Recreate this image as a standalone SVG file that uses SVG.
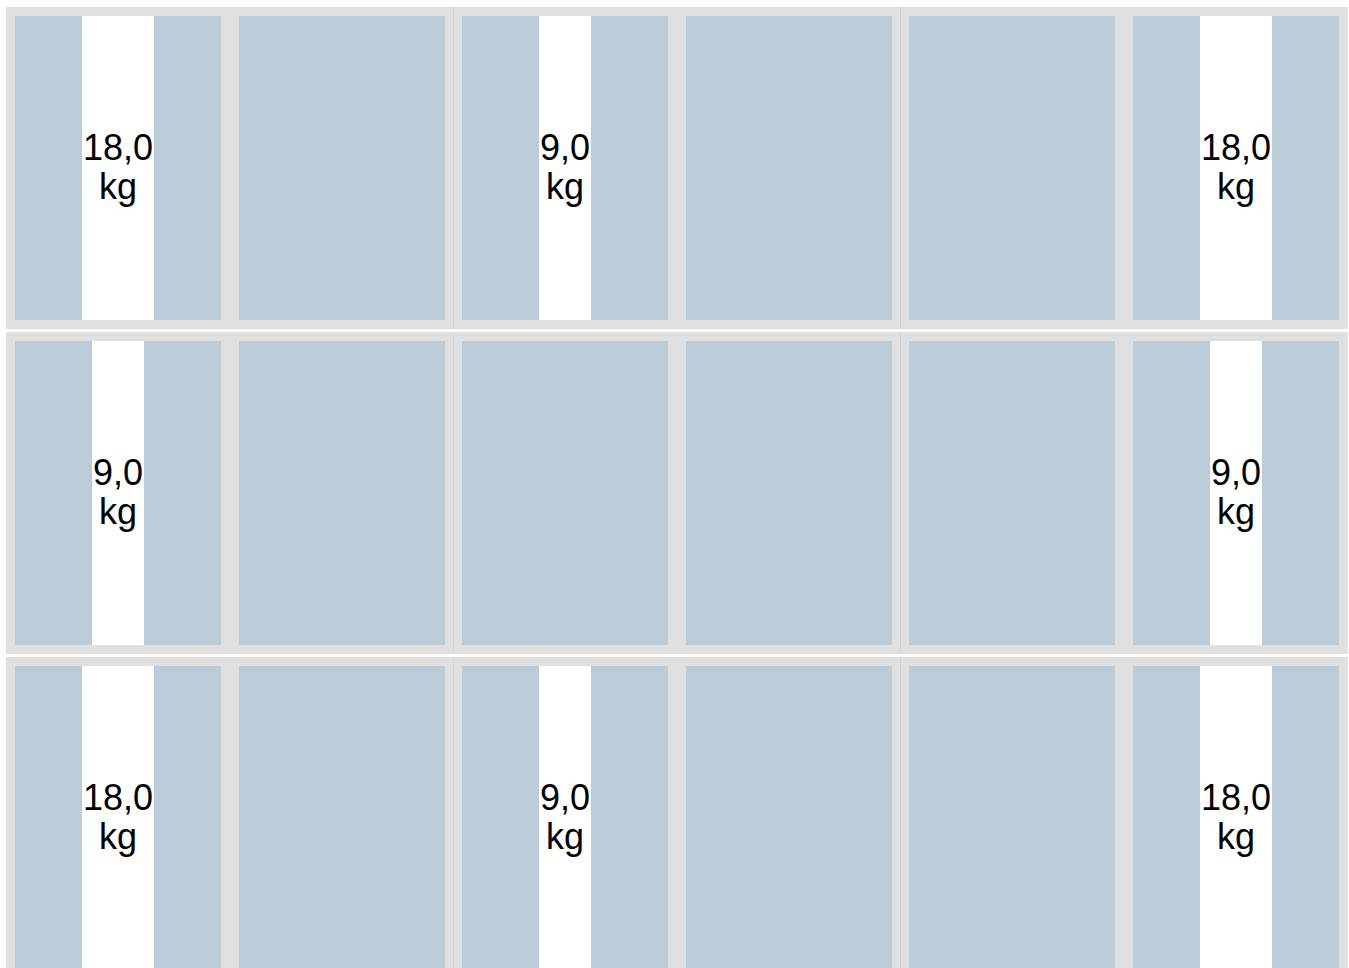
<svg xmlns="http://www.w3.org/2000/svg" width="1349" height="968" viewBox="0 0 1349 968">
<style>
.band{fill:#e0e0e0}
.sep{stroke:#d2d2d2;stroke-width:1}
.cell{fill:#bccbd8}
.gap{fill:#ffffff}
.lbl{font-family:"Liberation Sans",Arial,sans-serif;font-size:36px;fill:#000;text-anchor:middle}
</style>
<rect width="1349" height="968" fill="#ffffff"/>
<g id="bands">
<rect class="band" x="6" y="7" width="1342" height="322"/>
<rect class="band" x="6" y="332" width="1342" height="322"/>
<rect class="band" x="6" y="657" width="1342" height="322"/>
</g>
<g id="connectors">
<line class="sep" x1="453.5" y1="7" x2="453.5" y2="329"/>
<line class="sep" x1="900.5" y1="7" x2="900.5" y2="329"/>
<line class="sep" x1="453.5" y1="332" x2="453.5" y2="654"/>
<line class="sep" x1="900.5" y1="332" x2="900.5" y2="654"/>
<line class="sep" x1="453.5" y1="657" x2="453.5" y2="968"/>
<line class="sep" x1="900.5" y1="657" x2="900.5" y2="968"/>
</g>
<g id="r1c1"><rect class="cell" x="15" y="16" width="206" height="304"/><rect class="gap" x="82" y="16" width="72" height="304"/><text class="lbl" x="118" y="160">18,0</text><text class="lbl" x="118" y="199">kg</text></g>
<g id="r1c2"><rect class="cell" x="239" y="16" width="206" height="304"/></g>
<g id="r1c3"><rect class="cell" x="462" y="16" width="206" height="304"/><rect class="gap" x="539" y="16" width="52" height="304"/><text class="lbl" x="565" y="160">9,0</text><text class="lbl" x="565" y="199">kg</text></g>
<g id="r1c4"><rect class="cell" x="686" y="16" width="206" height="304"/></g>
<g id="r1c5"><rect class="cell" x="909" y="16" width="206" height="304"/></g>
<g id="r1c6"><rect class="cell" x="1133" y="16" width="206" height="304"/><rect class="gap" x="1200" y="16" width="72" height="304"/><text class="lbl" x="1236" y="160">18,0</text><text class="lbl" x="1236" y="199">kg</text></g>
<g id="r2c1"><rect class="cell" x="15" y="341" width="206" height="304"/><rect class="gap" x="92" y="341" width="52" height="304"/><text class="lbl" x="118" y="485">9,0</text><text class="lbl" x="118" y="524">kg</text></g>
<g id="r2c2"><rect class="cell" x="239" y="341" width="206" height="304"/></g>
<g id="r2c3"><rect class="cell" x="462" y="341" width="206" height="304"/></g>
<g id="r2c4"><rect class="cell" x="686" y="341" width="206" height="304"/></g>
<g id="r2c5"><rect class="cell" x="909" y="341" width="206" height="304"/></g>
<g id="r2c6"><rect class="cell" x="1133" y="341" width="206" height="304"/><rect class="gap" x="1210" y="341" width="52" height="304"/><text class="lbl" x="1236" y="485">9,0</text><text class="lbl" x="1236" y="524">kg</text></g>
<g id="r3c1"><rect class="cell" x="15" y="666" width="206" height="304"/><rect class="gap" x="82" y="666" width="72" height="304"/><text class="lbl" x="118" y="810">18,0</text><text class="lbl" x="118" y="849">kg</text></g>
<g id="r3c2"><rect class="cell" x="239" y="666" width="206" height="304"/></g>
<g id="r3c3"><rect class="cell" x="462" y="666" width="206" height="304"/><rect class="gap" x="539" y="666" width="52" height="304"/><text class="lbl" x="565" y="810">9,0</text><text class="lbl" x="565" y="849">kg</text></g>
<g id="r3c4"><rect class="cell" x="686" y="666" width="206" height="304"/></g>
<g id="r3c5"><rect class="cell" x="909" y="666" width="206" height="304"/></g>
<g id="r3c6"><rect class="cell" x="1133" y="666" width="206" height="304"/><rect class="gap" x="1200" y="666" width="72" height="304"/><text class="lbl" x="1236" y="810">18,0</text><text class="lbl" x="1236" y="849">kg</text></g>
</svg>
